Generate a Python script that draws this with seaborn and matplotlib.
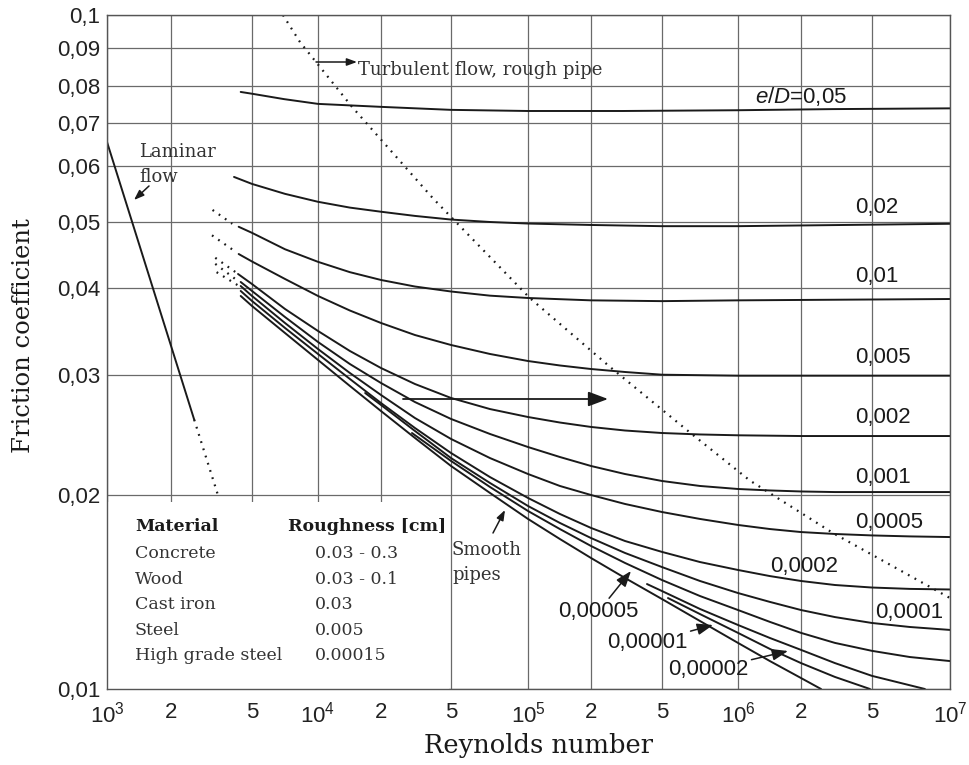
import numpy as np
import pandas as pd
import matplotlib
matplotlib.use("Agg")
import matplotlib.pyplot as plt
import matplotlib.transforms as mtransforms
from matplotlib.patches import Rectangle
from matplotlib.ticker import FixedLocator, FixedFormatter, NullLocator
import seaborn as sns

# ---- axis ticks -----------------------------------------------------------
re_ticks = [1e3, 2e3, 5e3, 1e4, 2e4, 5e4, 1e5, 2e5, 5e5, 1e6, 2e6, 5e6, 1e7]
re_tick_labels = [r"$10^3$", "2", "5", r"$10^4$", "2", "5", r"$10^5$", "2", "5",
                  r"$10^6$", "2", "5", r"$10^7$"]
f_ticks = [0.01, 0.02, 0.03, 0.04, 0.05, 0.06, 0.07, 0.08, 0.09, 0.1]
f_tick_labels = ["0,01", "0,02", "0,03", "0,04", "0,05", "0,06", "0,07", "0,08", "0,09", "0,1"]

# ---- friction curves, one pair of arrays per relative roughness e/D -------
re_0_05 = [4.4e3, 5e3, 7e3, 1e4, 2e4, 5e4, 1e5, 3e5, 1e6, 3e6, 1e7]
f_0_05 = [0.0783, 0.0778, 0.0763, 0.0750, 0.0742, 0.0734, 0.0731, 0.0731, 0.0733, 0.0736, 0.0738]

re_0_02 = [4.08e3, 5e3, 7.07e3, 1e4, 1.42e4, 2e4, 3.12e4, 5e4, 7.1e4, 1e5, 2e5, 5e5, 1e6, 1e7]
f_0_02 = [0.0579, 0.0566, 0.0548, 0.0534, 0.0524, 0.0517, 0.0510, 0.0504, 0.0500, 0.04974,
          0.0495, 0.0493, 0.0493, 0.0497]

re_0_01 = [4.3e3, 5e3, 7.07e3, 1e4, 1.42e4, 2e4, 3.12e4, 5e4, 7.1e4, 1e5, 2e5, 5e5, 1e6, 1e7]
f_0_01 = [0.0492, 0.0482, 0.0456, 0.0437, 0.0422, 0.0411, 0.0402, 0.03954, 0.0390, 0.0387,
          0.0384, 0.0383, 0.0384, 0.03857]

re_0_005 = [4.3e3, 5e3, 7.07e3, 1e4, 1.42e4, 2e4, 3.12e4, 5e4, 7.1e4, 1e5, 1.42e5, 2e5,
            3.1e5, 5e5, 1e6, 1e7]
f_0_005 = [0.04487, 0.04375, 0.04124, 0.03896, 0.03713, 0.03563, 0.03424, 0.03313, 0.03216,
           0.03142, 0.03096, 0.0306, 0.0303, 0.03003, 0.02993, 0.02993]

re_0_002 = [4.27e3, 5e3, 7.07e3, 1e4, 1.42e4, 2e4, 3.12e4, 5e4, 7.1e4, 1e5, 1.42e5, 2e5,
            3.1e5, 5e5, 7.07e5, 1e6, 2e6, 1e7]
f_0_002 = [0.04194, 0.04054, 0.03732, 0.0347, 0.03248, 0.0307, 0.0291, 0.02776, 0.02674,
           0.02603, 0.02555, 0.02517, 0.02487, 0.02466, 0.02454, 0.02447, 0.02441, 0.02441]

re_0_001 = [4.4e3, 5e3, 7.07e3, 1e4, 1.42e4, 2e4, 3.12e4, 5e4, 7.1e4, 1e5, 1.42e5, 2e5,
            3.1e5, 5e5, 7.07e5, 1e6, 1.42e6, 2e6, 3.1e6, 1e7]
f_0_001 = [0.04082, 0.03961, 0.03634, 0.03346, 0.03111, 0.0292, 0.02738, 0.02586, 0.02458,
           0.02352, 0.02274, 0.02206, 0.02147, 0.02097, 0.02062, 0.02041, 0.02031, 0.02024,
           0.0202, 0.0202]

re_0_0005 = [4.4e3, 5e3, 7.07e3, 1e4, 1.42e4, 2e4, 3.12e4, 5e4, 7.1e4, 1e5, 1.42e5, 2e5,
             3.1e5, 5e5, 7.07e5, 1e6, 1.42e6, 2e6, 3.1e6, 5e6, 7e6, 1e7]
f_0_0005 = [0.04027, 0.03896, 0.03563, 0.03269, 0.0302, 0.02804, 0.02594, 0.02417, 0.02266,
            0.02147, 0.02062, 0.0200, 0.01937, 0.01882, 0.01836, 0.01797, 0.01771, 0.01752,
            0.0174, 0.01731, 0.01725, 0.01721]

re_0_0002 = [4.4e3, 5e3, 7.07e3, 1e4, 1.42e4, 2e4, 3.12e4, 5e4, 7.1e4, 1e5, 1.42e5, 2e5,
             3.1e5, 5e5, 7.07e5, 1e6, 1.42e6, 2e6, 3.1e6, 5e6, 7e6, 1e7]
f_0_0002 = [0.03961, 0.03832, 0.03505, 0.03216, 0.0296, 0.02729, 0.02508, 0.02305, 0.02125,
            0.01979, 0.01869, 0.01778, 0.01697, 0.01632, 0.01574, 0.0153, 0.01497, 0.01471,
            0.0145, 0.01437, 0.0143, 0.01427]

re_0_0001 = [1.68e4, 2e4, 3.12e4, 5e4, 7.1e4, 1e5, 1.42e5, 2e5, 3.1e5, 5e5, 7.07e5, 1e6,
             1.42e6, 2e6, 3.1e6, 5e6, 7e6, 1e7]
f_0_0001 = [0.02823, 0.02711, 0.02483, 0.02266, 0.02083, 0.01923, 0.0181, 0.01715, 0.01626,
            0.01546, 0.01471, 0.01409, 0.01365, 0.01326, 0.01293, 0.01266, 0.01248, 0.01235]

re_0_00005 = [3.0e4, 5e4, 7.1e4, 1e5, 1.42e5, 2e5, 3.1e5, 5e5, 7.07e5, 1e6, 1.42e6, 2e6,
              3.1e6, 5e6, 7e6, 1e7]
f_0_00005 = [0.02466, 0.02244, 0.02055, 0.01889, 0.01771, 0.01667, 0.01569, 0.01476, 0.01394,
             0.01326, 0.01271, 0.01222, 0.01179, 0.01146, 0.01121, 0.01105]

re_0_00002 = [4.12e5, 5e5, 7.07e5, 1e6, 1.42e6, 2e6, 3.1e6, 5e6, 8.0e6]
f_0_00002 = [0.01455, 0.01419, 0.01331, 0.01257, 0.0120, 0.0115, 0.01097, 0.01048, 0.0100]

re_0_00001 = [5.28e5, 7.07e5, 1e6, 1.42e6, 2e6, 3.1e6, 4.87e6]
f_0_00001 = [0.01384, 0.01307, 0.01222, 0.01154, 0.01097, 0.01044, 0.0100]

re_smooth = [4.4e3, 5e3, 7.07e3, 1e4, 1.42e4, 2e4, 3.12e4, 5e4, 7.1e4, 1e5, 1.42e5, 2e5,
             3.1e5, 5e5, 7.07e5, 1e6, 1.42e6, 2e6, 2.59e6]
f_smooth = [0.03896, 0.03769, 0.03447, 0.03153, 0.02891, 0.02656, 0.02425, 0.02206, 0.02014,
            0.01836, 0.01709, 0.01597, 0.01487, 0.01379, 0.01275, 0.01179, 0.01105, 0.0104,
            0.0100]

# transition extensions (dotted) of the rough curves
re_ext_0_01 = [3.2e3, 4.0e3]
f_ext_0_01 = [0.0520, 0.0497]
re_ext_0_005 = [3.18e3, 4.03e3]
f_ext_0_005 = [0.0478, 0.0455]
re_ext_0_002 = [3.3e3, 4.2e3]
f_ext_0_002 = [0.0443, 0.0421]
re_ext_0_001 = [3.3e3, 4.2e3]
f_ext_0_001 = [0.0434, 0.0411]
re_ext_0_0005 = [3.35e3, 4.3e3]
f_ext_0_0005 = [0.0422, 0.0403]

# laminar flow line
re_laminar = [1e3, 2.6e3]
f_laminar = [0.0654, 0.0258]
re_laminar_ext = [2.6e3, 3.4e3]
f_laminar_ext = [0.0258, 0.0200]

# limit of the fully rough (turbulent) zone
re_rough_limit = [6.92e3, 8.28e3, 1.454e4, 3.95e4, 5.42e4, 1.02e5, 2.56e5, 6.45e5, 1.14e6, 3.02e6, 1e7]
f_rough_limit = [0.1, 0.0917, 0.0742, 0.0540, 0.0493, 0.0387, 0.0308, 0.0247, 0.0210, 0.01746, 0.01384]

# pipe materials
materials = ["Concrete", "Wood", "Cast iron", "Steel", "High grade steel"]
roughness = ["0.03 - 0.3", "0.03 - 0.1", "0.03", "0.005", "0.00015"]

# ---- long-form tables for seaborn ----------------------------------------
solid = [("0.05", re_0_05, f_0_05), ("0.02", re_0_02, f_0_02), ("0.01", re_0_01, f_0_01),
         ("0.005", re_0_005, f_0_005), ("0.002", re_0_002, f_0_002), ("0.001", re_0_001, f_0_001),
         ("0.0005", re_0_0005, f_0_0005), ("0.0002", re_0_0002, f_0_0002),
         ("0.0001", re_0_0001, f_0_0001), ("0.00005", re_0_00005, f_0_00005),
         ("0.00002", re_0_00002, f_0_00002), ("0.00001", re_0_00001, f_0_00001),
         ("smooth", re_smooth, f_smooth)]
dotted = [("x0.01", re_ext_0_01, f_ext_0_01), ("x0.005", re_ext_0_005, f_ext_0_005),
          ("x0.002", re_ext_0_002, f_ext_0_002), ("x0.001", re_ext_0_001, f_ext_0_001),
          ("x0.0005", re_ext_0_0005, f_ext_0_0005), ("limit", re_rough_limit, f_rough_limit)]


def long_form(items):
    return pd.concat([pd.DataFrame({"Re": r, "f": v, "curve": n}) for n, r, v in items],
                     ignore_index=True)


solid_df = long_form(solid)
dotted_df = long_form(dotted)
lam_df = long_form([("lam", re_laminar, f_laminar)])
lam_ext_df = long_form([("lamx", re_laminar_ext, f_laminar_ext)])

# ---- style -----------------------------------------------------------------
sns.set_style("white")
plt.rcParams["font.family"] = ["Liberation Sans", "DejaVu Sans"]
plt.rcParams["mathtext.fontset"] = "custom"
plt.rcParams["mathtext.rm"] = "Liberation Sans"
plt.rcParams["mathtext.it"] = "Liberation Sans:italic"
SERIF = ["DejaVu Serif"]
INK = "#1a1a1a"
NOTE = "#333333"

fig = plt.figure(figsize=(9.69, 7.65), dpi=100)
ax = fig.add_axes([107 / 969, 1 - 689 / 765, 843 / 969, 674 / 765])

# the printed chart's grid is not evenly logarithmic: map each grid line to its spot
x_grid_steps = [0, 64, 145, 211, 274, 344, 421, 484, 555, 631, 694, 765, 843]
y_grid_steps = [0, 194, 314, 401, 467, 523, 566, 603, 641, 674]
lre = np.log10(re_ticks)
lf = np.log10(f_ticks)


def x_fwd(v):
    return np.interp(np.log10(np.clip(v, 1e-12, None)), lre, x_grid_steps)


def x_inv(p):
    return 10 ** np.interp(p, x_grid_steps, lre)


def y_fwd(v):
    return np.interp(np.log10(np.clip(v, 1e-12, None)), lf, y_grid_steps)


def y_inv(p):
    return 10 ** np.interp(p, y_grid_steps, lf)


sns.lineplot(data=lam_df, x="Re", y="f", units="curve", estimator=None, sort=False,
             color=INK, linewidth=1.4, legend=False, ax=ax, zorder=0.9)
sns.lineplot(data=lam_ext_df, x="Re", y="f", units="curve", estimator=None, sort=False,
             color=INK, linewidth=1.6, legend=False, ax=ax, zorder=0.9)
ax.lines[-1].set_dashes([0.8, 2.6])
sns.lineplot(data=solid_df, x="Re", y="f", units="curve", estimator=None, sort=False,
             color=INK, linewidth=1.4, legend=False, ax=ax, zorder=2)
n_before = len(ax.lines)
sns.lineplot(data=dotted_df, x="Re", y="f", units="curve", estimator=None, sort=False,
             color=INK, linewidth=1.6, legend=False, ax=ax, zorder=2)
for ln in ax.lines[n_before:]:
    ln.set_dashes([0.8, 2.6])
for ln in ax.lines:
    ln.set_solid_joinstyle("round")

ax.set_xscale("function", functions=(x_fwd, x_inv))
ax.set_yscale("function", functions=(y_fwd, y_inv))
ax.set_xlim(1e3, 1e7)
ax.set_ylim(0.01, 0.1)

ax.xaxis.set_major_locator(FixedLocator(re_ticks))
ax.xaxis.set_major_formatter(FixedFormatter(re_tick_labels))
ax.xaxis.set_minor_locator(NullLocator())
ax.yaxis.set_major_locator(FixedLocator(f_ticks))
ax.yaxis.set_major_formatter(FixedFormatter(f_tick_labels))
ax.yaxis.set_minor_locator(NullLocator())
ax.tick_params(axis="both", length=0, labelsize=16, colors="#222222")
ax.tick_params(axis="x", pad=9)
ax.tick_params(axis="y", pad=5)
ax.set_axisbelow(True)
ax.grid(True, color="#6a6a6a", linewidth=0.9)
for sp in ax.spines.values():
    sp.set_color("#555555")
    sp.set_linewidth(1.0)
ax.set_xlabel("")
ax.set_ylabel("")

# white panel carrying the materials table
ax.add_patch(Rectangle((1e3, 0.01), 4.85e4 - 1e3, 0.0195 - 0.01, facecolor="white",
                       edgecolor="none", zorder=1))

pix = mtransforms.Affine2D().scale(1 / 969, -1 / 765).translate(0, 1) + fig.transFigure

# axis titles
fig.text(538 / 969, 1 - 745 / 765, "Reynolds number", family=SERIF, fontsize=18.5,
         ha="center", va="center", color=INK)
fig.text(24 / 969, 1 - 336 / 765, "Friction coefficient", family=SERIF, fontsize=17.5,
         rotation=90, ha="center", va="center", color=INK)

# materials table
ax.text(135, 527, "Material", transform=pix, family=SERIF, fontsize=12.5,
        fontweight="bold", va="center", color=INK)
ax.text(288, 527, "Roughness [cm]", transform=pix, family=SERIF, fontsize=12.5,
        fontweight="bold", va="center", color=INK)
for i, (m, r) in enumerate(zip(materials, roughness)):
    yy = 554 + i * 25.5
    ax.text(135, yy, m, transform=pix, family=SERIF, fontsize=12.5, va="center", color=NOTE)
    ax.text(315, yy, r, transform=pix, family=SERIF, fontsize=12.5, va="center", color=NOTE)

# curve labels (relative roughness)
ax.text(755, 97, r"$e/D$=0,05", transform=pix, fontsize=16, va="center", color=INK)
for txt, xx, yy in [("0,02", 855, 207), ("0,01", 855, 277), ("0,005", 855, 358),
                    ("0,002", 855, 418), ("0,001", 855, 478), ("0,0005", 855, 523),
                    ("0,0002", 770, 567), ("0,0001", 875, 613)]:
    ax.text(xx, yy, txt, transform=pix, fontsize=16, va="center", color=INK)

small_arrow = dict(arrowstyle="-|>,head_length=0.6,head_width=0.22", color=INK, lw=1.1,
                   shrinkA=0, shrinkB=0)
ax.annotate("0,00005", xy=(631, 571), xytext=(598, 612), xycoords=pix, textcoords=pix,
            fontsize=16, ha="center", va="center", color=INK, arrowprops=small_arrow)
ax.annotate("0,00001", xy=(713, 625), xytext=(647, 643), xycoords=pix, textcoords=pix,
            fontsize=16, ha="center", va="center", color=INK, arrowprops=small_arrow)
ax.annotate("0,00002", xy=(788, 651), xytext=(708, 670), xycoords=pix, textcoords=pix,
            fontsize=16, ha="center", va="center", color=INK, arrowprops=small_arrow)

# flow regime notes
ax.annotate("", xy=(357, 62), xytext=(316, 62), xycoords=pix, textcoords=pix,
            arrowprops=small_arrow)
ax.text(358, 70, "Turbulent flow, rough pipe", transform=pix, family=SERIF, fontsize=13,
        va="center", color=NOTE)
ax.text(139, 152, "Laminar", transform=pix, family=SERIF, fontsize=13, va="center", color=NOTE)
ax.text(139, 177, "flow", transform=pix, family=SERIF, fontsize=13, va="center", color=NOTE)
ax.annotate("", xy=(134, 200), xytext=(149, 186), xycoords=pix, textcoords=pix,
            arrowprops=small_arrow)
ax.text(452, 550, "Smooth", transform=pix, family=SERIF, fontsize=13, va="center", color=NOTE)
ax.text(452, 575, "pipes", transform=pix, family=SERIF, fontsize=13, va="center", color=NOTE)
ax.annotate("", xy=(505, 510), xytext=(493, 533), xycoords=pix, textcoords=pix,
            arrowprops=small_arrow)
ax.annotate("", xy=(608, 399), xytext=(403, 399), xycoords=pix, textcoords=pix,
            arrowprops=dict(arrowstyle="-|>,head_length=1.2,head_width=0.45", color=INK,
                            lw=1.3, shrinkA=0, shrinkB=0))

fig.savefig("out.png", dpi=100, facecolor="white")
